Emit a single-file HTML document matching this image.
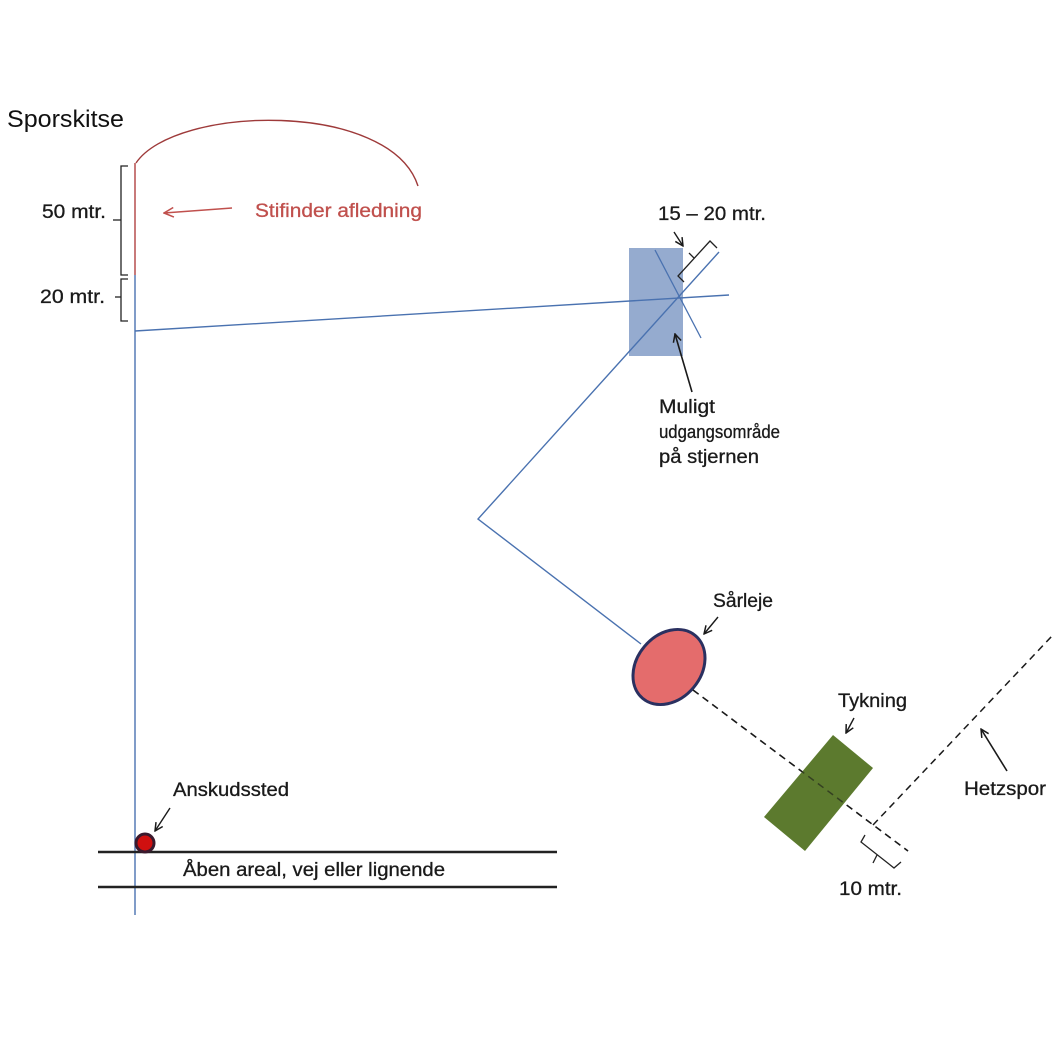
<!DOCTYPE html>
<html><head><meta charset="utf-8"><style>
html,body{margin:0;padding:0;background:#fff;}
svg{display:block;}
text{font-family:"Liberation Sans",sans-serif;fill:#1a1a1a;}
</style></head><body>
<svg width="1063" height="1063" viewBox="0 0 1063 1063" xmlns="http://www.w3.org/2000/svg">
<defs>
<marker id="ah" viewBox="0 0 10 10" refX="9" refY="5" markerWidth="10" markerHeight="10" orient="auto" markerUnits="userSpaceOnUse">
<path d="M1,1 L9,5 L1,9" fill="none" stroke="#1a1a1a" stroke-width="1.5"/>
</marker>
<marker id="ahr" viewBox="0 0 10 10" refX="9" refY="5" markerWidth="12" markerHeight="12" orient="auto" markerUnits="userSpaceOnUse">
<path d="M1,1 L9,5 L1,9" fill="none" stroke="#c0504d" stroke-width="1.3"/>
</marker>
</defs>
<rect width="1063" height="1063" fill="#fff"/>

<text x="7" y="127" font-size="24" textLength="117" lengthAdjust="spacingAndGlyphs" style="fill:#111">Sporskitse</text>

<!-- red arc -->
<path d="M136,163 C175,105 390,100 418,186" fill="none" stroke="#9e3a3a" stroke-width="1.4"/>
<line x1="135" y1="163" x2="135" y2="275" stroke="#b04040" stroke-width="1.4"/>
<line x1="135" y1="275" x2="135" y2="915" stroke="#4a72b0" stroke-width="1.4"/>

<!-- brackets left -->
<path d="M128,166 L121,166 L121,275 L128,275" fill="none" stroke="#222" stroke-width="1.3"/>
<line x1="113" y1="220" x2="121" y2="220" stroke="#222" stroke-width="1.3"/>
<path d="M128,279 L121,279 L121,321 L128,321" fill="none" stroke="#222" stroke-width="1.3"/>
<line x1="115" y1="297" x2="121" y2="297" stroke="#222" stroke-width="1.3"/>
<g style="stroke:#1a1a1a;stroke-width:0.3">
<text x="42" y="218" font-size="19" textLength="64" lengthAdjust="spacingAndGlyphs">50 mtr.</text>
<text x="40" y="303" font-size="19" textLength="65" lengthAdjust="spacingAndGlyphs">20 mtr.</text>
</g>

<line x1="232" y1="208" x2="164" y2="213" stroke="#c0504d" stroke-width="1.4" marker-end="url(#ahr)"/>
<text x="255" y="217" font-size="19" textLength="167" lengthAdjust="spacingAndGlyphs" style="fill:#c0504d;stroke:#c0504d;stroke-width:0.3">Stifinder afledning</text>

<rect x="629" y="248" width="54" height="108" fill="#95abcf"/>
<line x1="135" y1="331" x2="729" y2="295" stroke="#4a72b0" stroke-width="1.4"/>
<line x1="655" y1="250" x2="701" y2="338" stroke="#4a72b0" stroke-width="1.3"/>
<polyline points="719,252 478,519 641,644" fill="none" stroke="#4a72b0" stroke-width="1.4"/>

<path d="M684,282 L678,276 L710,241 L717,248" fill="none" stroke="#222" stroke-width="1.3"/>
<line x1="694" y1="258" x2="689" y2="253" stroke="#222" stroke-width="1.3"/>
<line x1="674" y1="232" x2="683" y2="246" stroke="#1a1a1a" stroke-width="1.4" marker-end="url(#ah)"/>
<line x1="692" y1="392" x2="675" y2="334" stroke="#1a1a1a" stroke-width="1.6" marker-end="url(#ah)"/>

<line x1="693" y1="690" x2="908" y2="851" stroke="#1a1a1a" stroke-width="1.5" stroke-dasharray="7,5"/>
<line x1="873" y1="825" x2="1052" y2="636" stroke="#1a1a1a" stroke-width="1.5" stroke-dasharray="7,5"/>

<ellipse cx="669" cy="667" rx="32" ry="41" transform="rotate(40 669 667)" fill="#e46c6c" stroke="#2a3060" stroke-width="3"/>
<line x1="718" y1="617" x2="704" y2="634" stroke="#1a1a1a" stroke-width="1.4" marker-end="url(#ah)"/>

<polygon points="833,735 873,768 805,851 764,817" fill="#5c7a2e"/>
<line x1="693" y1="690" x2="908" y2="851" stroke="#1a1a1a" stroke-width="1.5" stroke-dasharray="7,5" opacity="0.6"/>
<line x1="854" y1="718" x2="846" y2="733" stroke="#1a1a1a" stroke-width="1.4" marker-end="url(#ah)"/>
<line x1="1007" y1="771" x2="981" y2="729" stroke="#1a1a1a" stroke-width="1.6" marker-end="url(#ah)"/>

<path d="M865,835 L861,842 L894,868 L901,862" fill="none" stroke="#222" stroke-width="1.3"/>
<line x1="877" y1="855" x2="873" y2="863" stroke="#222" stroke-width="1.3"/>

<line x1="98" y1="852" x2="557" y2="852" stroke="#222" stroke-width="2.5"/>
<line x1="98" y1="887" x2="557" y2="887" stroke="#222" stroke-width="2.5"/>
<circle cx="145" cy="843" r="9" fill="#d01010" stroke="#3a1a2e" stroke-width="3"/>
<line x1="170" y1="808" x2="155" y2="831" stroke="#1a1a1a" stroke-width="1.4" marker-end="url(#ah)"/>

<g style="stroke:#1a1a1a;stroke-width:0.3">
<text x="658" y="220" font-size="19" textLength="108" lengthAdjust="spacingAndGlyphs">15 – 20 mtr.</text>
<text x="659" y="413" font-size="19" textLength="56" lengthAdjust="spacingAndGlyphs">Muligt</text>
<text x="659" y="438" font-size="18" textLength="121" lengthAdjust="spacingAndGlyphs">udgangsområde</text>
<text x="659" y="463" font-size="19" textLength="100" lengthAdjust="spacingAndGlyphs">på stjernen</text>
<text x="713" y="607" font-size="19" textLength="60" lengthAdjust="spacingAndGlyphs">Sårleje</text>
<text x="838" y="707" font-size="19" textLength="69" lengthAdjust="spacingAndGlyphs">Tykning</text>
<text x="964" y="795" font-size="19" textLength="82" lengthAdjust="spacingAndGlyphs">Hetzspor</text>
<text x="839" y="895" font-size="19" textLength="63" lengthAdjust="spacingAndGlyphs">10 mtr.</text>
<text x="173" y="796" font-size="19" textLength="116" lengthAdjust="spacingAndGlyphs">Anskudssted</text>
<text x="183" y="876" font-size="19" textLength="262" lengthAdjust="spacingAndGlyphs">Åben areal, vej eller lignende</text>
</g>
</svg>
</body></html>
